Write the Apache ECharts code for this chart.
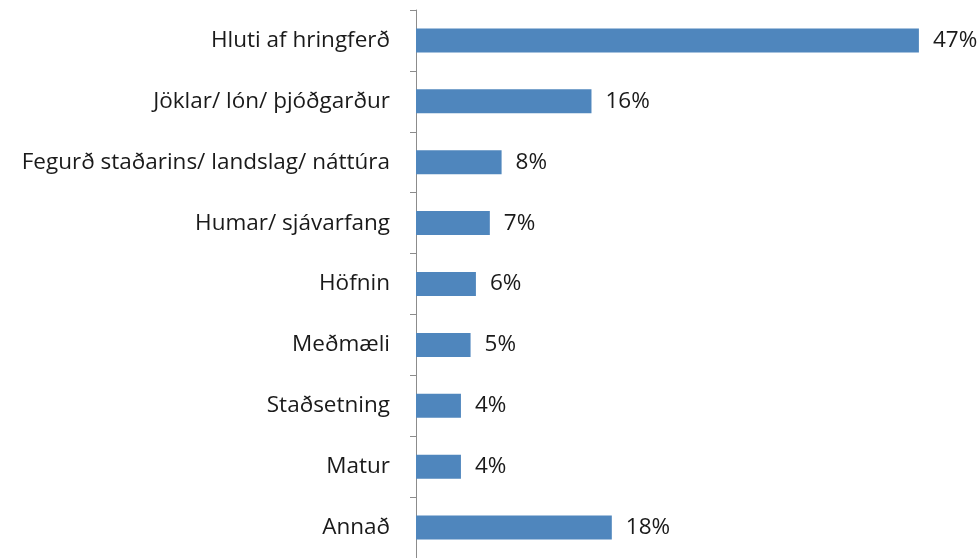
<!DOCTYPE html>
<html>
<head>
<meta charset="utf-8">
<script src="https://cdn.jsdelivr.net/npm/echarts@6/dist/echarts.min.js"></script>
<style>
  html, body { margin: 0; padding: 0; background: #fff; }
  #chart { width: 979px; height: 558px; }
</style>
</head>
<body>
<div id="chart"></div>
<script>
// categories top to bottom
const categories = [
  'Hluti af hringferð',
  'Jöklar/ lón/ þjóðgarður',
  'Fegurð staðarins/ landslag/ náttúra',
  'Humar/ sjávarfang',
  'Höfnin',
  'Meðmæli',
  'Staðsetning',
  'Matur',
  'Annað'
]
// percentages (labels shown rounded)
const values = [47.0, 16.4, 8.0, 6.9, 5.6, 5.1, 4.2, 4.2, 18.3]

const chart = echarts.init(document.getElementById('chart'))
chart.setOption({
  animation: false,
  grid: {
    left: 416,
    top: 10,
    width: 535,
    height: 552
  },
  xAxis: {
    type: 'value',
    min: 0,
    max: 50,
    show: false
  },
  yAxis: {
    type: 'category',
    data: categories,
    inverse: true,
    axisLine: { show: true, lineStyle: { color: '#8c8c8c', width: 1 } },
    axisTick: { show: true, length: 6, lineStyle: { color: '#8c8c8c' } },
    axisLabel: {
      margin: 26,
      fontFamily: 'Open Sans',
      fontSize: 22.5,
      color: '#1a1a1a'
    }
  },
  series: [
    {
      type: 'bar',
      data: values,
      barWidth: 24,
      itemStyle: { color: '#4f86bd' },
      label: {
        show: true,
        position: 'right',
        distance: 14,
        fontFamily: 'Open Sans',
        fontSize: 22.5,
        color: '#1a1a1a',
        formatter: (p) => Math.round(p.value) + '%'
      }
    }
  ]
})
</script>
</body>
</html>
